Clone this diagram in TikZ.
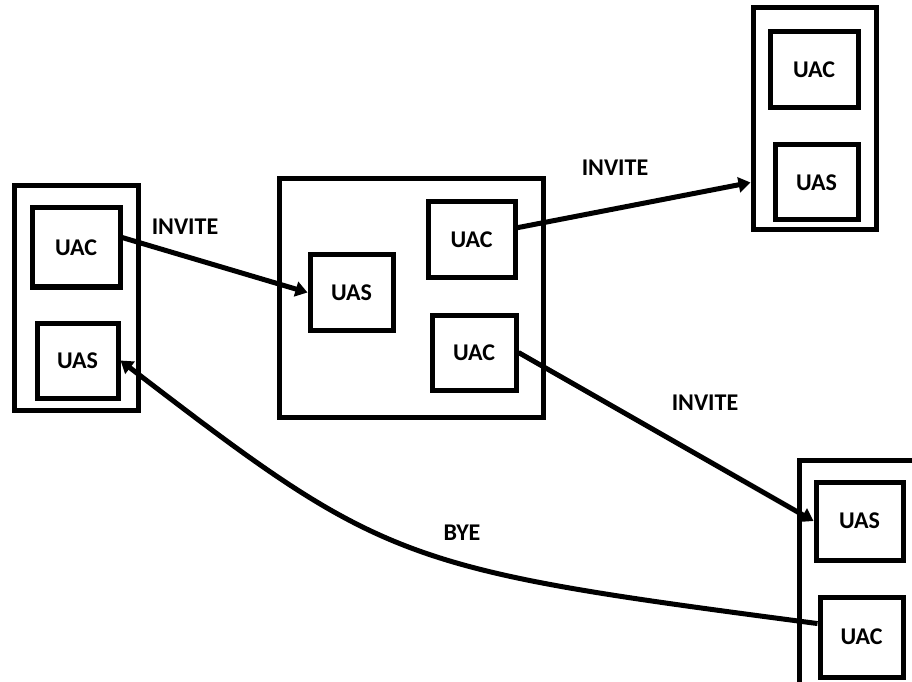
\documentclass[tikz,border=0pt]{standalone}
\usepackage{fontspec}
\setmainfont{Carlito}
\usetikzlibrary{arrows.meta}
\tikzset{
  box/.style={draw, line width=5pt, rectangle, font=\bfseries\fontsize{24}{28}\selectfont},
  lbl/.style={font=\bfseries\fontsize{24}{28}\selectfont},
  msg/.style={-{Triangle[length=12pt,width=15pt]}, line width=5pt}
}

\begin{document}
\begin{tikzpicture}[x=1pt,y=1pt]
\useasboundingbox (0,0) rectangle (912,681);
\clip (0,0) rectangle (912,681);

% caller
\node[box, minimum width=124pt, minimum height=224pt] (louter) at (76,383) {};
\node[box, minimum width=88pt, minimum height=79pt] (luac) at (76,433.5) {UAC};
\node[box, minimum width=81pt, minimum height=75pt] (luas) at (77.5,320.5) {UAS};

% proxy
\node[box, minimum width=264pt, minimum height=238pt] (mouter) at (411,383) {};
\node[box, minimum width=83pt, minimum height=75pt] (muas) at (351.5,388.5) {UAS};
\node[box, minimum width=87pt, minimum height=76pt] (muac1) at (471.5,441) {UAC};
\node[box, minimum width=84pt, minimum height=75pt] (muac2) at (474,328.5) {UAC};

% callee 1
\node[box, minimum width=123pt, minimum height=222pt] (trouter) at (814.5,562) {};
\node[box, minimum width=88pt, minimum height=76pt] (truac) at (814,611) {UAC};
\node[box, minimum width=83pt, minimum height=75pt] (truas) at (816.5,498.5) {UAS};

% callee 2
\node[box, minimum width=126pt, minimum height=230pt] (brouter) at (862,106) {};
\node[box, minimum width=87pt, minimum height=78pt] (bruas) at (859.5,160) {UAS};
\node[box, minimum width=83pt, minimum height=80pt] (bruac) at (861.5,44) {UAC};

\node[lbl] (inv1) at (185,454) {INVITE};
\node[lbl] (inv2) at (615,513) {INVITE};
\node[lbl] (inv3) at (705,278) {INVITE};
\node[lbl] (bye) at (462,148) {BYE};

\draw[msg] (luac.12) to (muas.west);
\draw[msg] (muac1.15) to (truas.west -| trouter.west);
\draw[msg] (muac2.east) to (bruas.west);
\draw[msg] (bruac.163) to[out=172.5, in=-37.5, out looseness=1.45, in looseness=1.15] (luas.east);

\end{tikzpicture}
\end{document}
